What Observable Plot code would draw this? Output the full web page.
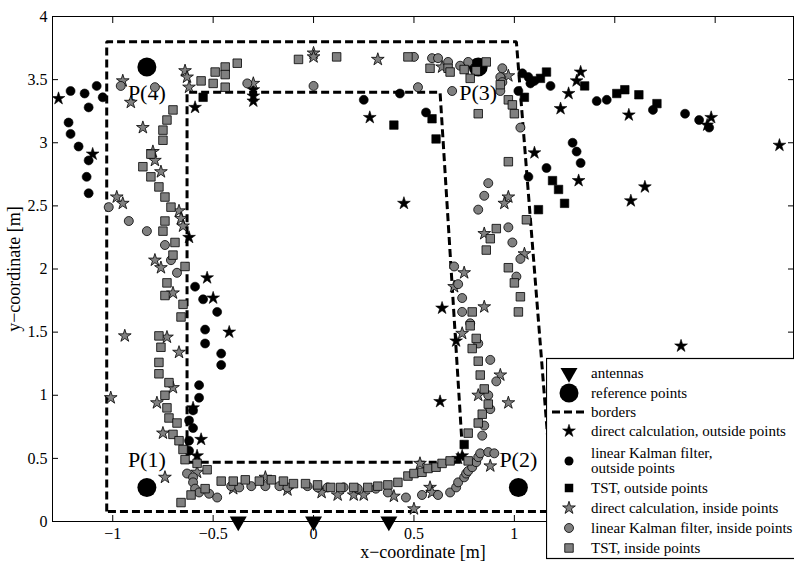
<!DOCTYPE html>
<html>
<head>
<meta charset="utf-8">
<script src="https://cdn.jsdelivr.net/npm/d3@7"></script>
<script src="https://cdn.jsdelivr.net/npm/@observablehq/plot@0.6"></script>
<style>
  body { margin: 0; background: white; }
  #wrap { position: relative; width: 794px; height: 561px; overflow: hidden; background: white; }
  #wrap svg, #wrap svg text { font-family: "Liberation Serif", "Times New Roman", serif !important; }
  g[aria-label="x-axis label"] text, g[aria-label="y-axis label"] text { font-size: 18px; }
</style>
</head>
<body>
<div id="wrap"></div>
<script>
// ---------------- data ----------------
const xTicks = [-1, -0.5, 0, 0.5, 1, 1.5, 2];
const xTickLabels = [-1, -0.5, 0, 0.5, 1];
const yTicks = [0, 0.5, 1, 1.5, 2, 2.5, 3, 3.5, 4];

const antennas = [[-0.375, 0], [0, 0], [0.375, 0]];
const referencePoints = [[-0.83, 0.27], [1.02, 0.27], [0.82, 3.6], [-0.83, 3.6]];
const referenceNames = ["P(1)", "P(2)", "P(3)", "P(4)"];

const outerBorder = [[-1.03, 0.08], [-1.03, 3.8], [1.01, 3.8], [1.195, 0.08], [-1.03, 0.08]];
const innerBorder = [[-0.63, 0.47], [-0.63, 3.4], [0.63, 3.4], [0.745, 0.47], [-0.63, 0.47]];

const directOutside = [
  [-1.27,3.35],[-1.10,2.91],[-0.59,3.28],[-0.62,2.25],[-0.53,1.93],[-0.50,1.77],[-0.42,1.50],
  [-0.60,0.90],[-0.56,0.65],[-0.58,0.52],[-0.30,3.42],[-0.30,3.37],[-0.30,3.33],[0.28,3.20],
  [0.45,2.52],[0.64,1.69],[0.71,1.43],[0.63,0.95],[0.72,0.50],[0.74,0.52],[1.10,2.92],[1.23,3.27],
  [1.27,3.39],[1.31,3.49],[1.33,3.56],[1.32,2.70],[1.57,3.22],[1.65,2.65],[1.58,2.54],[1.98,3.20],
  [1.96,3.14],[2.32,2.98],[1.83,1.39]
];
const kalmanOutside = [
  [-1.21,3.41],[-1.14,3.39],[-1.08,3.45],[-1.05,3.36],[-1.12,3.28],[-1.22,3.16],[-1.21,3.07],
  [-1.17,2.97],[-1.12,2.86],[-1.13,2.73],[-1.12,2.60],
  [-0.59,1.86],[-0.55,1.76],[-0.48,1.66],[-0.54,1.52],[-0.54,1.41],[-0.46,1.33],[-0.46,1.24],
  [-0.57,1.08],[-0.57,0.98],[-0.60,0.88],[-0.62,0.80],[-0.60,0.74],[-0.62,0.64],[-0.62,0.56],
  [0.25,3.34],[0.43,3.39],[0.56,3.24],[1.02,3.41],[1.04,3.55],[1.07,3.52],[1.08,3.47],[1.10,3.49],
  [1.18,3.45],[1.41,3.33],[1.46,3.34],[1.69,3.26],[1.85,3.23],[1.92,3.18],[1.97,3.12],[1.29,3.00],
  [1.31,2.93],[1.33,2.84],[1.16,2.80],[1.07,2.73]
];
const tstOutside = [
  [-0.55,3.36],[0.40,3.14],[0.59,3.19],[0.61,3.03],[1.05,3.36],[1.16,3.56],[1.13,3.51],[1.35,3.45],
  [1.51,3.39],[1.55,3.42],[1.62,3.38],[1.71,3.31],[1.19,2.70],[1.22,2.63],[1.25,2.52],[1.12,2.47],
  [0.75,0.61]
];
const directInside = [
  [-0.95,3.49],[-0.91,3.32],[-0.85,3.12],[-0.80,2.93],[-0.79,2.86],[-0.76,2.77],[-0.98,2.57],
  [-0.95,2.52],[-0.67,2.46],[-0.66,2.40],[-0.65,2.34],[-0.79,2.07],[-0.76,2.01],[-0.64,3.57],
  [-0.63,3.52],[-0.62,3.44],[-0.30,3.47],[-0.70,1.81],[-0.94,1.47],[-0.73,1.46],[-0.67,1.34],
  [-1.01,0.98],[-0.78,0.94],[-0.70,1.06],[-0.75,0.70],[-0.74,0.35],[-0.58,0.39],[-0.40,0.26],
  [-0.24,0.35],[-0.13,0.25],[0.04,0.23],[0.12,0.21],[0.20,0.21],[0.25,0.21],[0.40,0.20],[0.50,0.10],
  [0.53,0.46],[0.58,0.27],[0.59,0.23],[0.88,0.44],[0.70,1.86],[0.85,1.70],[0.74,1.49],[0.93,1.16],
  [0.82,1.00],[0.97,0.94],[0.00,3.71],[0.00,3.68],[0.32,3.66],[0.97,2.57],[0.95,2.52],[0.85,2.28],
  [1.05,2.12],[0.75,1.97],[0.64,3.60],[0.97,3.53]
];
const kalmanInside = [
  [-0.96,3.45],[-0.79,3.44],[-0.33,3.47],[-1.02,2.49],[-0.92,2.38],[-0.83,2.30],[-0.74,2.19],
  [-0.71,2.07],[-0.68,1.97],
  [-0.63,0.38],[-0.60,0.35],[-0.60,0.31],[-0.59,0.26],[-0.57,0.23],[-0.52,0.22],[-0.48,0.19],
  [-0.41,0.28],[-0.37,0.27],[-0.31,0.28],[-0.24,0.28],[-0.17,0.28],[-0.13,0.27],[-0.03,0.28],
  [0.02,0.27],[0.07,0.27],[0.15,0.27],[0.22,0.26],[0.31,0.26],[0.37,0.23],[0.46,0.19],[0.54,0.21],
  [0.62,0.21],[0.68,0.23],[0.71,0.27],[0.72,0.31],[0.75,0.35],[0.76,0.38],[0.77,0.40],[0.79,0.43],
  [0.81,0.47],[0.82,0.51],[0.83,0.54],[0.87,0.55],[0.90,0.54],[0.84,0.68],[0.85,0.76],[0.88,0.89],
  [0.87,1.00],[0.91,1.11],[0.88,1.28],[0.82,1.41],[0.78,1.57],[0.74,1.66],[0.74,1.77],[0.72,1.88],
  [0.70,2.02],
  [0.00,3.45],[0.50,3.68],[0.52,3.44],[0.59,3.67],[0.62,3.67],[0.67,3.64],[0.73,3.61],[0.77,3.64],
  [0.69,3.41],[0.94,3.59],[0.93,3.52],[0.94,3.48],[0.93,3.41],[1.03,3.12],[0.87,2.68],[0.85,2.58],
  [0.82,2.47],[0.97,2.33],[0.99,2.21],[1.03,2.08],[1.01,1.94]
];
const tstInside = [
  [-0.56,3.49],[-0.49,3.56],[-0.44,3.60],[-0.44,3.54],[-0.50,3.47],[-0.44,3.44],[-0.38,3.63],
  [-0.70,3.26],[-0.73,3.18],[-0.75,3.10],[-0.75,3.02],[-0.81,2.91],[-0.85,2.81],[-0.81,2.73],
  [-0.77,2.65],[-0.74,2.57],[-0.71,2.49],[-0.74,2.38],[-0.75,2.30],[-0.69,2.21],[-0.70,2.11],
  [-0.64,2.02],
  [-0.73,1.89],[-0.74,1.79],[-0.65,1.72],[-0.66,1.62],[-0.77,1.47],[-0.76,1.38],[-0.77,1.26],
  [-0.77,1.17],[-0.72,1.10],[-0.74,1.00],[-0.73,0.90],[-0.72,0.82],[-0.68,0.78],[-0.70,0.69],
  [-0.67,0.64],[-0.65,0.57],[-0.64,0.49],[-0.58,0.46],[-0.53,0.41],
  [-0.66,0.15],[-0.61,0.21],[-0.54,0.26],[-0.46,0.32],[-0.40,0.32],[-0.34,0.33],[-0.27,0.32],
  [-0.21,0.33],[-0.15,0.32],[-0.10,0.30],[-0.04,0.30],[0.02,0.29],[0.085,0.27],[0.135,0.27],
  [0.20,0.27],[0.27,0.27],[0.32,0.28],[0.37,0.29],[0.42,0.31],[0.47,0.36],[0.50,0.38],[0.54,0.39],
  [0.57,0.42],[0.61,0.43],[0.64,0.46],[0.68,0.48],[0.77,0.48],
  [0.77,0.70],[0.82,0.78],[0.84,0.85],[0.87,0.93],[0.85,1.05],[0.83,1.16],[0.82,1.27],[0.79,1.37],
  [0.81,1.45],[0.78,1.55],[0.79,1.66],[1.03,1.78],[1.02,1.66],[1.00,1.89],
  [-0.075,3.66],[0.115,3.68],[0.47,3.68],[0.58,3.59],[0.67,3.59],[0.68,3.56],[0.75,3.58],[0.81,3.57],
  [0.86,3.64],[0.78,3.51],[0.82,3.23],[0.93,3.46],[0.97,3.34],[0.99,3.30],[1.00,3.23],[0.97,2.85],
  [1.06,2.39],[0.91,2.32],[0.88,2.24],[0.86,2.15],[0.97,2.01]
];

const legendLabels = [
  ["antennas"],
  ["reference points"],
  ["borders"],
  ["direct calculation, outside points"],
  ["linear Kalman filter,", "outside points"],
  ["TST, outside points"],
  ["direct calculation, inside points"],
  ["linear Kalman filter, inside points"],
  ["TST, inside points"]
];

// ---------------- styles ----------------
const SERIF = "'Liberation Serif', 'Times New Roman', serif";
const GRAY = "#808080";
const R = { antenna: 6.3, ref: 9.5, star: 4.0, circle: 4.5, square: 4.8 };
const pts = a => a.map(([x, y]) => ({x, y}));
const fmt = d3.format("");

const refData = referencePoints.map(([x, y], i) => ({x, y, name: referenceNames[i]}));

const chart = Plot.plot({
  width: 794,
  height: 561,
  marginLeft: 52,
  marginRight: 1,
  marginTop: 16,
  marginBottom: 40,
  style: { fontFamily: SERIF, fontSize: "16px", background: "white", color: "black" },
  x: { domain: [-1.3, 2.39] },
  y: { domain: [0, 4] },
  marks: [
    // axis ticks pointing inward on all four sides
    Plot.axisX(xTicks, { anchor: "bottom", tickSize: -6, fill: "none", label: null }),
    Plot.axisX(xTicks, { anchor: "top", tickSize: -6, fill: "none", label: null }),
    Plot.axisY(yTicks, { anchor: "left", tickSize: -6, fill: "none", label: null }),
    Plot.axisY(yTicks, { anchor: "right", tickSize: -6, fill: "none", label: null }),
    // tick labels and axis titles
    Plot.axisX(xTickLabels, { anchor: "bottom", tickSize: 0, tickPadding: 6, tickFormat: fmt, fontSize: 16, fontFamily: SERIF,
      label: "x−coordinate [m]", labelAnchor: "center", labelOffset: 36, labelArrow: "none" }),
    Plot.axisY(yTicks, { anchor: "left", tickSize: 0, tickPadding: 5, tickFormat: fmt, fontSize: 16, fontFamily: SERIF,
      label: "y−coordinate [m]", labelAnchor: "center", labelOffset: 45, labelArrow: "none" }),
    Plot.frame({ stroke: "black", strokeWidth: 1 }),

    Plot.dot(pts(antennas), { x: "x", y: "y", symbol: "triangle", rotate: 180, r: R.antenna, fill: "black", stroke: "none" }),
    Plot.dot(refData, { x: "x", y: "y", r: R.ref, fill: "black", stroke: "none" }),
    Plot.text(refData.filter(d => d.y < 2), { x: "x", y: "y", text: "name", textAnchor: "start", dx: -19, dy: -27, fontSize: 22, fontFamily: SERIF, fill: "black" }),
    Plot.text(refData.filter(d => d.y >= 2), { x: "x", y: "y", text: "name", textAnchor: "start", dx: -19, dy: 26, fontSize: 22, fontFamily: SERIF, fill: "black" }),

    Plot.line(pts(outerBorder), { x: "x", y: "y", stroke: "black", strokeWidth: 3, strokeDasharray: "8,4", strokeLinecap: "butt", strokeLinejoin: "miter" }),
    Plot.line(pts(innerBorder), { x: "x", y: "y", stroke: "black", strokeWidth: 3, strokeDasharray: "8,4", strokeLinecap: "butt", strokeLinejoin: "miter" }),

    Plot.dot(pts(directOutside), { x: "x", y: "y", symbol: "star", r: R.star, fill: "black", stroke: "black", strokeWidth: 0.6 }),
    Plot.dot(pts(kalmanOutside), { x: "x", y: "y", symbol: "circle", r: R.circle, fill: "black", stroke: "black", strokeWidth: 0.6 }),
    Plot.dot(pts(tstOutside), { x: "x", y: "y", symbol: "square", r: R.square, fill: "black", stroke: "black", strokeWidth: 0.6 }),
    Plot.dot(pts(directInside), { x: "x", y: "y", symbol: "star", r: R.star, fill: GRAY, stroke: "black", strokeWidth: 0.8 }),
    Plot.dot(pts(kalmanInside), { x: "x", y: "y", symbol: "circle", r: R.circle, fill: GRAY, stroke: "black", strokeWidth: 0.8 }),
    Plot.dot(pts(tstInside), { x: "x", y: "y", symbol: "square", r: R.square, fill: GRAY, stroke: "black", strokeWidth: 0.8 })
  ]
});

const wrap = document.getElementById("wrap");
wrap.appendChild(chart);

// ---------------- legend (overlaid inside the axes, lower right) ----------------
const L = d3.create("svg")
  .attr("width", 248).attr("height", 203)
  .style("position", "absolute").style("left", "546px").style("top", "357px")
  .style("font-family", SERIF)
  .style("font-size", "15px");
L.append("rect").attr("x", 0.5).attr("y", 1.5).attr("width", 300).attr("height", 200)
  .attr("fill", "white").attr("stroke", "black").attr("stroke-width", 1.2);

const rowY = [16, 36, 55, 74, 104, 131, 151, 171, 191];
const mx = 23, tx = 45;
const sym = (type, r) => d3.symbol(type, Math.PI * r * r)();
const markers = [
  g => g.append("path").attr("d", sym(d3.symbolTriangle, R.antenna)).attr("transform", "rotate(180)").attr("fill", "black"),
  g => g.append("circle").attr("r", R.ref).attr("fill", "black"),
  g => g.append("line").attr("x1", -17).attr("x2", 18).attr("stroke", "black").attr("stroke-width", 3).attr("stroke-dasharray", "8,4"),
  g => g.append("path").attr("d", sym(d3.symbolStar, R.star)).attr("fill", "black").attr("stroke", "black").attr("stroke-width", 0.6),
  g => g.append("circle").attr("r", R.circle).attr("fill", "black"),
  g => g.append("path").attr("d", sym(d3.symbolSquare, R.square)).attr("fill", "black"),
  g => g.append("path").attr("d", sym(d3.symbolStar, R.star)).attr("fill", GRAY).attr("stroke", "black").attr("stroke-width", 0.8),
  g => g.append("circle").attr("r", R.circle).attr("fill", GRAY).attr("stroke", "black").attr("stroke-width", 0.8),
  g => g.append("path").attr("d", sym(d3.symbolSquare, R.square)).attr("fill", GRAY).attr("stroke", "black").attr("stroke-width", 0.8)
];
legendLabels.forEach((lines, i) => {
  const g = L.append("g").attr("transform", `translate(${mx},${rowY[i]})`);
  markers[i](g);
  const t = L.append("text").attr("x", tx).attr("fill", "black");
  lines.forEach((s, j) => {
    const baseline = rowY[i] + 5 + (lines.length === 2 ? (j === 0 ? -8 : 7) : 0);
    t.append("tspan").attr("x", tx).attr("y", baseline).text(s);
  });
});
wrap.appendChild(L.node());
</script>
</body>
</html>
